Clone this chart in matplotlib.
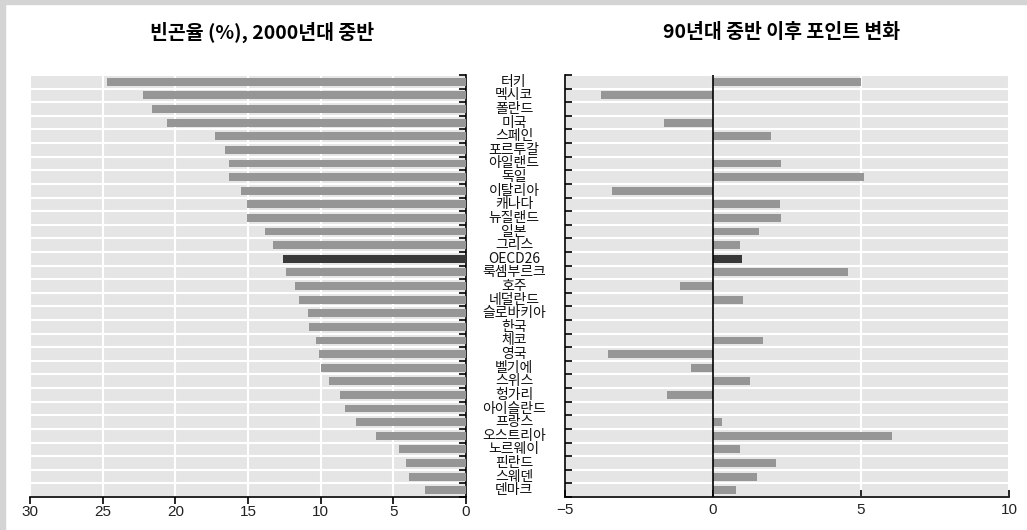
import numpy as np
import matplotlib.pyplot as plt
import matplotlib.transforms as mtransforms

plt.rcParams['font.family'] = ['Noto Sans CJK KR', 'DejaVu Sans']

countries = ['터키', '멕시코', '폴란드', '미국', '스페인', '포르투갈', '아일랜드', '독일',
             '이탈리아', '캐나다', '뉴질랜드', '일본', '그리스', 'OECD26', '룩셈부르크', '호주',
             '네덜란드', '슬로바키아', '한국', '체코', '영국', '벨기에', '스위스', '헝가리',
             '아이슬란드', '프랑스', '오스트리아', '노르웨이', '핀란드', '스웨덴', '덴마크']

poverty_rate = [24.7, 22.2, 21.6, 20.6, 17.3, 16.6, 16.3, 16.3, 15.5, 15.1, 15.1, 13.8,
                13.3, 12.6, 12.4, 11.8, 11.5, 10.9, 10.8, 10.3, 10.1, 10.0, 9.4, 8.7,
                8.3, 7.6, 6.2, 4.6, 4.1, 3.9, 2.8]

change_since_90s = [5.0, -3.8, np.nan, -1.65, 1.95, np.nan, 2.3, 5.1, -3.4, 2.25, 2.3, 1.57,
                    0.91, 0.99, 4.55, -1.1, 1.02, np.nan, np.nan, 1.7, -3.54, -0.73, 1.25,
                    -1.55, np.nan, 0.3, 6.06, 0.91, 2.12, 1.5, 0.78]

left_title = '빈곤율 (%), 2000년대 중반'
right_title = '90년대 중반 이후 포인트 변화'

bar_gray = '#969696'
oecd_dark = '#383838'
stripe = '#e5e5e5'

n = len(countries)
y = np.arange(n)
colors = [oecd_dark if c == 'OECD26' else bar_gray for c in countries]

fig = plt.figure(figsize=(10.27, 5.30), dpi=100)
fig.patch.set_facecolor('white')
# grey frame on the top and left edges
fig.patches.append(plt.Rectangle((0, 0), 5 / 1027, 1, transform=fig.transFigure,
                                 color='#d4d4d4', zorder=0))
fig.patches.append(plt.Rectangle((0, 1 - 4 / 530), 1, 4 / 530, transform=fig.transFigure,
                                 color='#d4d4d4', zorder=0))

axL = fig.add_axes([30 / 1027, 33 / 530, 436 / 1027, 422 / 530])
axR = fig.add_axes([565 / 1027, 33 / 530, 444 / 1027, 422 / 530])

for ax in (axL, axR):
    ax.set_facecolor(stripe)
    ax.set_ylim(n - 0.5, -0.5)
    ax.set_yticks([])
    ax.set_yticks(np.arange(n + 1) - 0.5, minor=True)
    ax.grid(True, which='minor', axis='y', color='white', linewidth=1.5)
    ax.grid(True, which='major', axis='x', color='white', linewidth=1.5)
    ax.set_axisbelow(True)
    ax.spines['top'].set_visible(False)
    ax.tick_params(axis='y', which='minor', direction='in', length=5, width=1.2)
    ax.tick_params(axis='x', labelsize=11, width=1.2, length=5, pad=1.5, colors='black')

# left panel: poverty rate, reversed axis
axL.barh(y, poverty_rate, height=0.58, color=colors, zorder=3)
axL.set_xlim(30, 0)
axL.set_xticks([30, 25, 20, 15, 10, 5, 0])
axL.spines['left'].set_visible(False)
axL.spines['right'].set_linewidth(1.2)
axL.spines['bottom'].set_linewidth(1.2)
axL.tick_params(axis='x', direction='out', pad=0.5)
axL.tick_params(axis='y', which='minor', left=False, right=True)

# right panel: change in points
axR.barh(y, change_since_90s, height=0.58, color=colors, zorder=3)
axR.axvline(0, color='black', linewidth=1.2, zorder=4)
axR.set_xlim(-5, 10)
axR.set_xticks([-5, 0, 5, 10])
axR.set_xticklabels(['\u22125', '0', '5', '10'])
axR.spines['right'].set_visible(False)
axR.spines['left'].set_linewidth(1.2)
axR.spines['bottom'].set_linewidth(1.2)
axR.tick_params(axis='x', direction='in', pad=4)
axR.tick_params(axis='y', which='minor', left=True, right=False)

for ax in (axL, axR):
    for lab in ax.get_xticklabels():
        lab.set_family(['Liberation Sans', 'DejaVu Sans'])
        lab.set_color('#222222')

# country names centred between the two panels
trans = mtransforms.blended_transform_factory(fig.transFigure, axL.transData)
for yi, name in zip(y, countries):
    fig.text(514 / 1027, yi, name, transform=trans, ha='center', va='center',
             fontsize=10, color='#111111')

fig.text(262 / 1027, 1 - 32 / 530, left_title, ha='center', va='center',
         fontsize=14, fontweight='bold')
fig.text(782 / 1027, 1 - 32 / 530, right_title, ha='center', va='center',
         fontsize=14, fontweight='bold')

fig.savefig('out.png', dpi=100)
